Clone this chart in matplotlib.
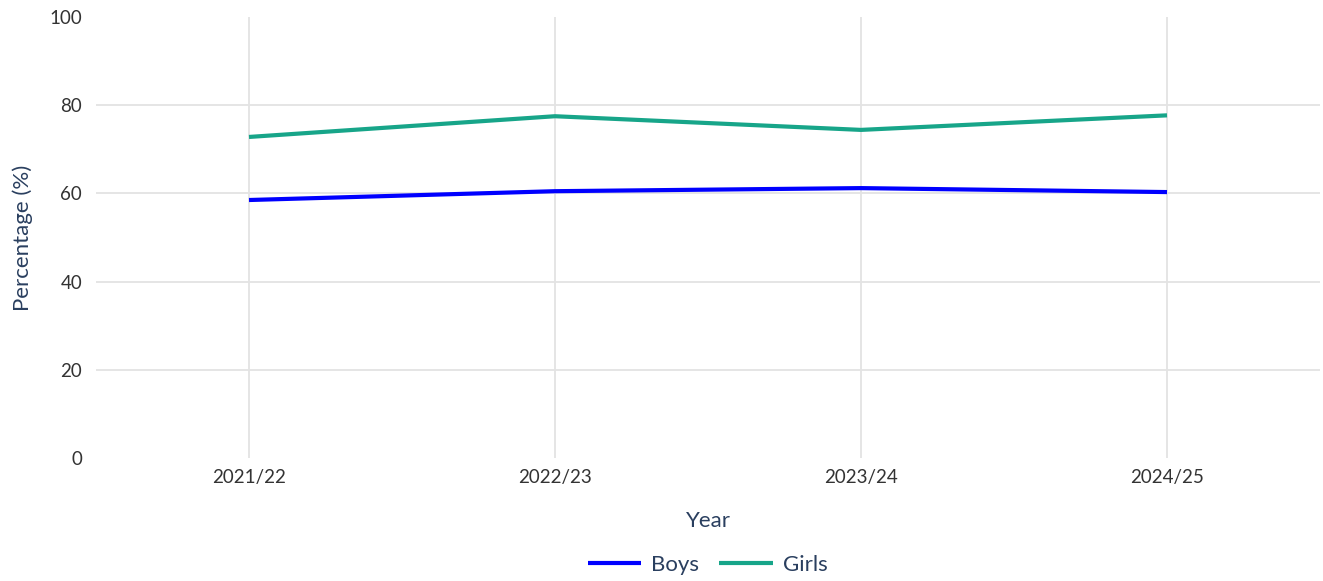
import matplotlib
matplotlib.use("Agg")
import matplotlib.pyplot as plt

years = ["2021/22", "2022/23", "2023/24", "2024/25"]
boys = [58.5, 60.5, 61.2, 60.3]
girls = [72.8, 77.5, 74.4, 77.7]
yticks = [0, 20, 40, 60, 80, 100]

plt.rcParams['font.family'] = ['Lato', 'DejaVu Sans']

fig = plt.figure(figsize=(13.23, 5.81), dpi=100)
ax = fig.add_axes([96/1323, (581-458)/581, (1320-96)/1323, (458-17)/581])

x = list(range(len(years)))
ax.plot(x, boys, color="#0000FF", lw=3, label="Boys", solid_capstyle="butt")
ax.plot(x, girls, color="#17A589", lw=3, label="Girls", solid_capstyle="butt")

ax.set_xlim(-0.5, len(years) - 0.5)
ax.set_ylim(0, 100)
ax.set_xticks(x)
ax.set_xticklabels(years)
ax.set_yticks(yticks)
ax.tick_params(axis='both', length=0, labelsize=13.5, labelcolor="#333333")
ax.tick_params(axis='x', pad=8)
ax.tick_params(axis='y', pad=10)
for s in ax.spines.values():
    s.set_visible(False)
ax.grid(True, color="#E3E3E3", lw=1.3)
ax.set_axisbelow(True)
ygl = ax.yaxis.get_gridlines()
ygl[0].set_visible(False)
ygl[-1].set_visible(False)

ax.set_xlabel("Year", fontsize=16, color="#2A3F5F", labelpad=18)
ax.set_ylabel("Percentage (%)", fontsize=16, color="#2A3F5F", labelpad=12)

leg = fig.legend(loc="center", bbox_to_anchor=(0.535, (581-565)/581), ncol=2,
                 frameon=False, fontsize=16, handlelength=2.4, columnspacing=0.9,
                 handletextpad=0.45)
for t in leg.get_texts():
    t.set_color("#2A3F5F")

fig.savefig("out.png", dpi=100)
